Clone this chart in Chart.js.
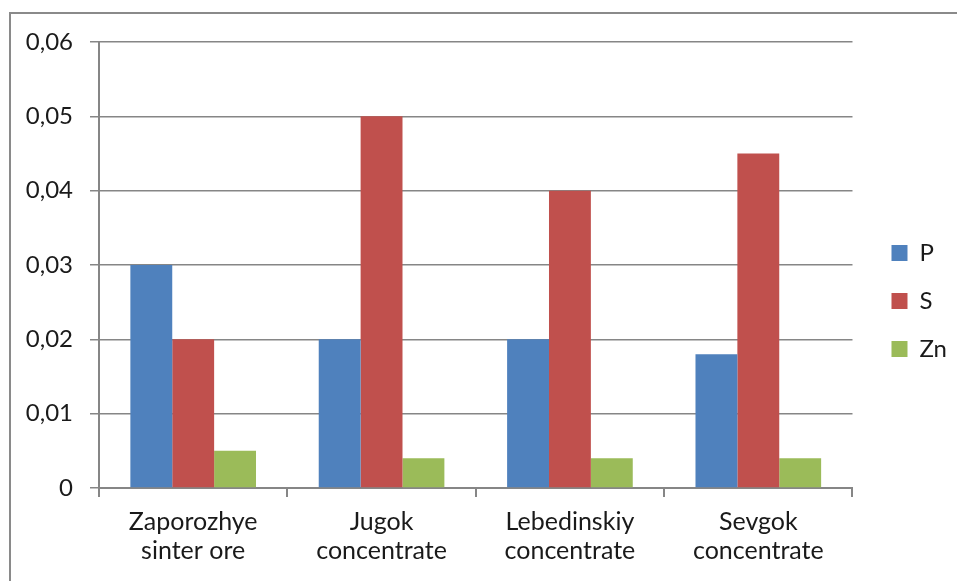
<!DOCTYPE html>
<html>
<head>
<meta charset="utf-8">
<script src="https://cdn.jsdelivr.net/npm/chart.js@4/dist/chart.umd.min.js"></script>
<style>
  html, body { margin: 0; padding: 0; background: #fff; overflow: hidden; }
  #frame { position: absolute; left: 9px; top: 12px; width: 2000px; height: 2000px;
           border-left: 2px solid #8a8a8a; border-top: 2px solid #8a8a8a; }
  #chart { position: absolute; left: 0; top: 0; }
</style>
</head>
<body>
<div id="frame"></div>
<canvas id="chart" width="957" height="581"></canvas>
<script>
// sample names, two lines each like the original axis
const categories = [
  ['Zaporozhye', 'sinter ore'],
  ['Jugok', 'concentrate'],
  ['Lebedinskiy', 'concentrate'],
  ['Sevgok', 'concentrate'],
];
const seriesNames = ['P', 'S', 'Zn'];
const valuesP  = [0.030, 0.020, 0.020, 0.018];
const valuesS  = [0.020, 0.050, 0.040, 0.045];
const valuesZn = [0.005, 0.004, 0.004, 0.004];
const yTicks   = [0, 0.01, 0.02, 0.03, 0.04, 0.05, 0.06];

const colors   = ['#4F81BD', '#C0504D', '#9BBB59'];
const axisGray = '#868686';
const txt      = '#1a1a1a';
const font     = { family: 'Lato', size: 24 };
const xFont    = { family: 'Lato', size: 25, lineHeight: 1.17 };

const fmtComma = v => v === 0 ? '0' : v.toFixed(2).replace('.', ',');

new Chart(document.getElementById('chart'), {
  type: 'bar',
  data: {
    labels: categories,
    datasets: [valuesP, valuesS, valuesZn].map((vals, i) => ({
      label: seriesNames[i],
      data: vals,
      backgroundColor: colors[i],
      borderWidth: 0,
      categoryPercentage: 0.667,
      barPercentage: 1,
    })),
  },
  options: {
    responsive: false,
    animation: false,
    layout: { padding: { top: 21, left: 0, right: 0, bottom: 0 } },
    plugins: {
      tooltip: { enabled: false },
      legend: {
        position: 'right',
        labels: { boxWidth: 16, boxHeight: 16, padding: 24, color: txt, font },
      },
    },
    scales: {
      x: {
        grid: { drawOnChartArea: false, drawTicks: true, tickLength: 9, color: axisGray, lineWidth: 2, offset: true },
        border: { display: true, color: axisGray, width: 2 },
        ticks: { color: txt, font: xFont, padding: 10, maxRotation: 0, autoSkip: false },
        afterFit: s => { s.height = 93; },
      },
      y: {
        min: 0, max: 0.06,
        afterBuildTicks: s => { s.ticks = yTicks.map(v => ({ value: v })); },
        grid: { color: axisGray, lineWidth: 1.5, tickLength: 9 },
        border: { display: true, color: axisGray, width: 2 },
        ticks: { color: txt, font, padding: 17, callback: v => fmtComma(v) },
        afterFit: s => { s.width = 99; },
      },
      // spacers: keep the plot box where the original one sits
      xTop: {
        type: 'category', position: 'top', display: true,
        ticks: { display: false }, grid: { display: false }, border: { display: false },
        afterFit: s => { s.height = 21; },
      },
      y2: {
        type: 'linear', position: 'right', display: true,
        ticks: { display: false }, grid: { display: false }, border: { display: false },
        afterFit: s => { s.width = 15; },
      },
    },
  },
});
</script>
</body>
</html>
